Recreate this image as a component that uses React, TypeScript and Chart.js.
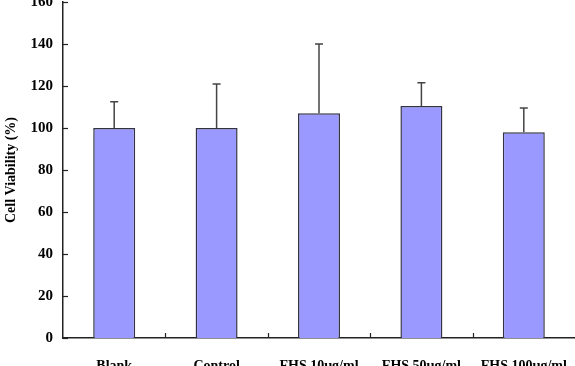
import React, { useEffect, useRef } from "react";
import { Chart, registerables } from "chart.js";

Chart.register(...registerables);

const categories = ["Blank", "Control", "FHS 10μg/ml", "FHS 50μg/ml", "FHS 100μg/ml"];
const viability = [100, 100, 107, 110.5, 98];
const errorTop = [112.5, 121, 140, 121.5, 109.5];
const yTicks = [0, 20, 40, 60, 80, 100, 120, 140, 160];

const FONT = "'Liberation Serif', 'Times New Roman', serif";

const extrasPlugin = {
  id: "extras",
  afterDatasetsDraw(chart: any) {
    const ctx = chart.ctx;
    const meta = chart.getDatasetMeta(0);
    const y = chart.scales.y;
    const x = chart.scales.x;
    ctx.save();
    // error bars
    ctx.strokeStyle = "#444";
    ctx.lineWidth = 1.5;
    meta.data.forEach((bar: any, i: number) => {
      const top = y.getPixelForValue(errorTop[i]);
      ctx.beginPath();
      ctx.moveTo(bar.x, bar.y);
      ctx.lineTo(bar.x, top);
      ctx.moveTo(bar.x - 4, top);
      ctx.lineTo(bar.x + 4, top);
      ctx.stroke();
    });
    // inward ticks
    ctx.strokeStyle = "#222";
    ctx.lineWidth = 1.2;
    const area = chart.chartArea;
    yTicks.forEach((v) => {
      const py = Math.round(y.getPixelForValue(v)) + 0.5;
      ctx.beginPath();
      ctx.moveTo(area.left, py);
      ctx.lineTo(area.left + 5, py);
      ctx.stroke();
    });
    for (let i = 0; i < categories.length - 1; i++) {
      const px = Math.round((x.getPixelForValue(i) + x.getPixelForValue(i + 1)) / 2) + 0.5;
      ctx.beginPath();
      ctx.moveTo(px, area.bottom);
      ctx.lineTo(px, area.bottom - 5);
      ctx.stroke();
    }
    ctx.restore();
  },
};

export default function App() {
  const ref = useRef<HTMLCanvasElement | null>(null);
  useEffect(() => {
    document.body.style.margin = "0";
    const canvas = ref.current;
    if (!canvas) return;
    const chart = new Chart(canvas, {
      type: "bar",
      data: {
        labels: categories,
        datasets: [
          {
            data: viability,
            backgroundColor: "#9999FF",
            borderColor: "#333344",
            borderWidth: 1.5,
            barPercentage: 0.41,
            categoryPercentage: 1,
          },
        ],
      },
      options: {
        responsive: false,
        animation: false,
        devicePixelRatio: 1,
        layout: { padding: { top: 2, left: 0, right: 0, bottom: 0 } },
        plugins: {
          legend: { display: false },
          tooltip: { enabled: false },
        },
        scales: {
          x: {
            grid: { display: false, drawTicks: false },
            border: { display: true, color: "#222", width: 1.5 },
            ticks: {
              color: "#000",
              padding: 20,
              maxRotation: 0,
              autoSkip: false,
              font: { family: FONT, size: 14, weight: "bold" },
            },
            afterFit: (s: any) => {
              s.height = 28;
              s.paddingLeft = 0;
              s.paddingRight = 0;
            },
          },
          y: {
            min: 0,
            max: 160,
            grid: { display: false, drawTicks: false },
            border: { display: true, color: "#222", width: 1.5 },
            ticks: {
              stepSize: 20,
              color: "#000",
              padding: 10,
              font: { family: FONT, size: 15, weight: "bold" },
            },
            title: {
              display: true,
              text: "Cell Viability (%)",
              color: "#000",
              padding: { top: 3, bottom: 0 },
              font: { family: FONT, size: 14, weight: "bold" },
            },
            afterFit: (s: any) => {
              s.width = 63;
              s.paddingTop = 0;
              s.paddingBottom = 0;
            },
          },
        },
      },
      plugins: [extrasPlugin],
    });
    return () => chart.destroy();
  }, []);
  return <canvas ref={ref} width={575} height={366} style={{ display: "block" }} />;
}
